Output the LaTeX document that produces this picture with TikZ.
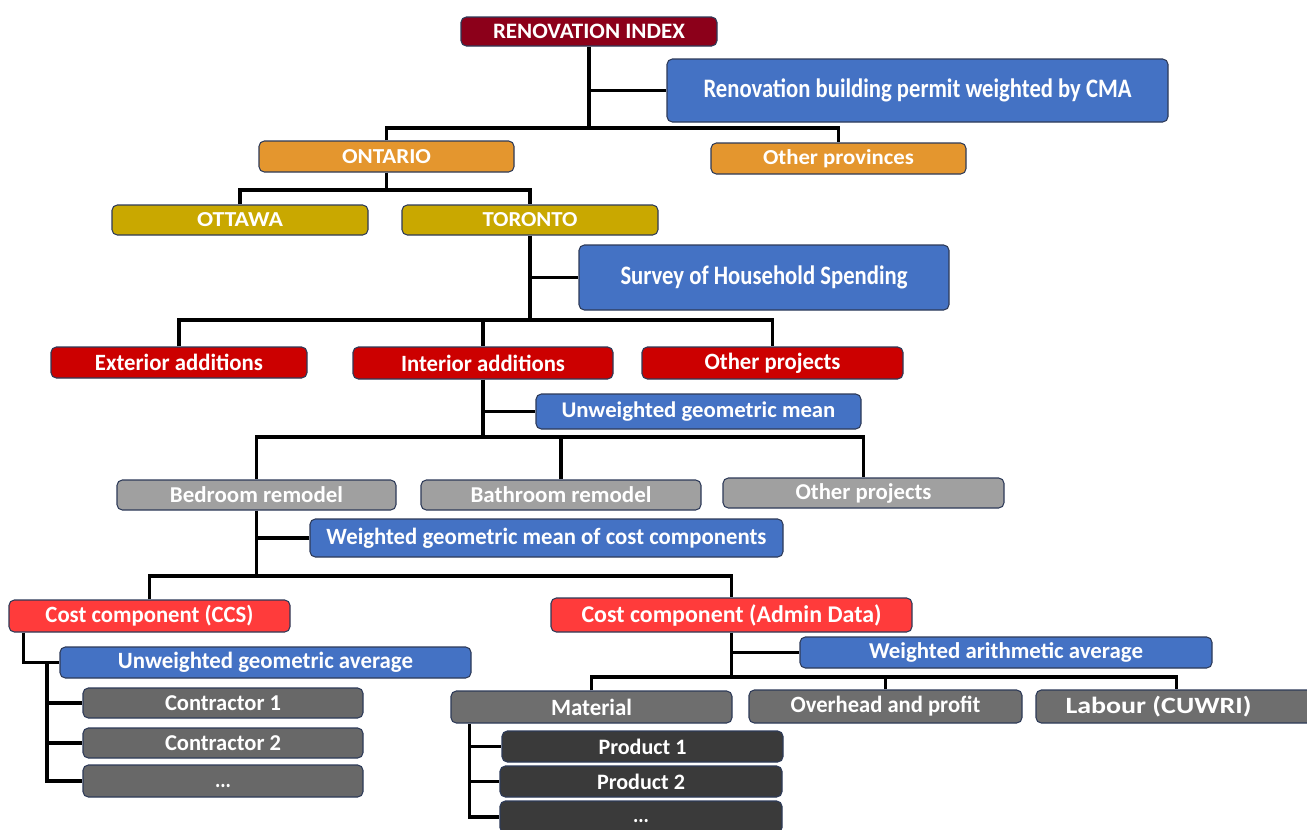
\documentclass[tikz,border=0pt]{standalone}
\usepackage{fontspec}
\setmainfont{Carlito}
\usepackage{graphicx}
\newdimen\px \px=0.75pt
\definecolor{cdred}{RGB}{140,0,26}
\definecolor{cblue}{RGB}{68,114,196}
\definecolor{corange}{RGB}{228,150,46}
\definecolor{cgold}{RGB}{201,168,0}
\definecolor{cred}{RGB}{204,0,0}
\definecolor{cgrayl}{RGB}{160,160,160}
\definecolor{cbred}{RGB}{255,59,59}
\definecolor{cgrayd}{RGB}{104,104,104}
\definecolor{cgraym}{RGB}{110,110,110}
\definecolor{cprod}{RGB}{58,58,58}
\definecolor{bordc}{RGB}{45,58,88}
\newcommand\lbl[3]{{\fontsize{#1}{#1}\selectfont\resizebox{#2\px}{\height}{#3}}}
\newcommand\bx[7]{\node[#6, minimum width={(#4-#2)*0.75pt}, minimum height={(#5-#3)*0.75pt}] (#1) at ({(#2+#4)/2},{(#3+#5)/2}) {#7};}
\tikzset{
  box/.style={draw=bordc, line width=0.8pt, rounded corners=4pt, inner sep=0pt, text=white, font=\bfseries},
  bdred/.style={box, fill=cdred},
  bblue/.style={box, fill=cblue},
  borange/.style={box, fill=corange},
  bgold/.style={box, fill=cgold},
  bred/.style={box, fill=cred},
  bgrayl/.style={box, fill=cgrayl},
  bbred/.style={box, fill=cbred},
  bgrayd/.style={box, fill=cgrayd},
  bgraym/.style={box, fill=cgraym},
  bprod/.style={box, fill=cprod},
  conn/.style={draw=black, line width=2.6pt}
}
\begin{document}
\begin{tikzpicture}[x=0.75pt,y=-0.75pt]
\useasboundingbox (0,0) rectangle (1307,829);
\clip (0,0) rectangle (1307,829);
\fill[white] (0,0) rectangle (1307,829);
% level boxes
\bx{ri}{461}{17}{717}{46}{bdred}{\lbl{16.5}{192}{RENOVATION INDEX}}
\bx{perm}{667}{59}{1168}{122}{bblue}{\lbl{20}{428}{Renovation building permit weighted by CMA}}
\bx{ont}{259}{141}{514}{172}{borange}{\lbl{16}{89}{ONTARIO}}
\bx{oprov}{711}{143}{966}{174}{borange}{\lbl{16}{151}{Other provinces}}
\bx{ott}{112}{205}{368}{235}{bgold}{\lbl{16}{86}{OTTAWA}}
\bx{tor}{402}{205}{658}{235}{bgold}{\lbl{16}{95}{TORONTO}}
\bx{surv}{579}{245}{949}{310}{bblue}{\lbl{20}{287}{Survey of Household Spending}}
\bx{ext}{51}{347}{307}{378}{bred}{\lbl{17.5}{168}{Exterior additions}}
\bx{int}{353}{347}{613}{379}{bred}{\lbl{17.5}{164}{Interior additions}}
\bx{othp}{642}{347}{903}{379}{bred}{\lbl{17.5}{136}{Other projects}}
\bx{ugm}{536}{394}{861}{429}{bblue}{\lbl{16.8}{274}{Unweighted geometric mean}}
\bx{bed}{117}{480}{396}{510}{bgrayl}{\lbl{17}{173}{Bedroom remodel}}
\bx{bath}{421}{480}{701}{510}{bgrayl}{\lbl{17}{181}{Bathroom remodel}}
\bx{othg}{723}{478}{1004}{508}{bgrayl}{\lbl{17}{136}{Other projects}}
\bx{wgm}{310}{519}{783}{557}{bblue}{\lbl{17.5}{440}{Weighted geometric mean of cost components}}
\bx{ccs}{9}{600}{290}{632}{bbred}{\lbl{17.5}{208}{Cost component (CCS)}}
\bx{adm}{551}{598}{912}{632}{bbred}{\lbl{18}{300}{Cost component (Admin Data)}}
\bx{uga}{60}{647}{471}{678}{bblue}{\lbl{17.5}{295}{Unweighted geometric average}}
\bx{wara}{800}{637}{1212}{668}{bblue}{\lbl{17}{274}{Weighted arithmetic average}}
\bx{con1}{83}{688}{363}{718}{bgrayd}{\lbl{17}{116}{Contractor 1}}
\bx{con2}{83}{728}{363}{758}{bgrayd}{\lbl{17}{116}{Contractor 2}}
\bx{con3}{83}{765}{363}{797}{bgrayd}{\rule{0pt}{14\px}\lbl{17}{16}{...}}
\bx{mat}{451}{691}{732}{723}{bgraym}{\lbl{17.5}{81}{Material}}
\bx{ovh}{749}{690}{1022}{723}{bgraym}{\lbl{17.5}{190}{Overhead and profit}}
\bx{lab}{1036}{690}{1317}{723}{bgraym}{\lbl{17.5}{186}{Labour (CUWRI)}\kern36\px}
\bx{p1}{502}{731}{783}{762}{bprod}{\lbl{16.5}{88}{Product 1}}
\bx{p2}{500}{766}{782}{797}{bprod}{\lbl{16.5}{88}{Product 2}}
\bx{p3}{500}{801}{782}{833}{bprod}{\rule{0pt}{12\px}\lbl{16.5}{16}{...}}
% junctions
\coordinate (j1) at (589,128);
\coordinate (j2) at (386.5,190);
\coordinate (j3) at (530,320);
\coordinate (j4) at (483,437);
\coordinate (j5) at (256.5,576);
\coordinate (j6) at (731.5,677);
\coordinate (k1) at (47,662.5);
% connectors
\draw[conn] (ri.south) -- (j1);
\draw[conn] (ri.south |- perm.west) -- (perm.west);
\draw[conn] (ont.north) |- (j1) -| (oprov.north);
\draw[conn] (ont.south) -- (j2);
\draw[conn] (ott.north) |- (j2) -| (tor.north);
\draw[conn] (tor.south) -- (j3);
\draw[conn] (tor.south |- surv.west) -- (surv.west);
\draw[conn] (ext.north) |- (j3) -| (othp.north);
\draw[conn] (int.north) -- (int.north |- j3);
\draw[conn] (int.south) -- (j4);
\draw[conn] (int.south |- ugm.west) -- (ugm.west);
\draw[conn] (bed.north) |- (j4) -| (othg.north);
\draw[conn] (bath.north) -- (bath.north |- j4);
\draw[conn] (bed.south) -- (j5);
\draw[conn] (bed.south |- wgm.west) -- (wgm.west);
\draw[conn] (ccs.north) |- (j5) -| (adm.north);
\draw[conn] ([xshift=11.25pt]ccs.south west) |- (uga.west);
\draw[conn] (k1) |- (con3.west);
\draw[conn] (k1 |- con1.west) -- (con1.west);
\draw[conn] (k1 |- con2.west) -- (con2.west);
\draw[conn] (adm.south) -- (j6);
\draw[conn] (adm.south |- wara.west) -- (wara.west);
\draw[conn] (mat.north) |- (j6) -| (lab.north);
\draw[conn] (ovh.north) -- (ovh.north |- j6);
\coordinate (m1) at ([xshift=14.25pt]mat.south west);
\draw[conn] (m1) |- (p3.west);
\draw[conn] (m1 |- p1.west) -- (p1.west);
\draw[conn] (m1 |- p2.west) -- (p2.west);
\end{tikzpicture}
\end{document}
